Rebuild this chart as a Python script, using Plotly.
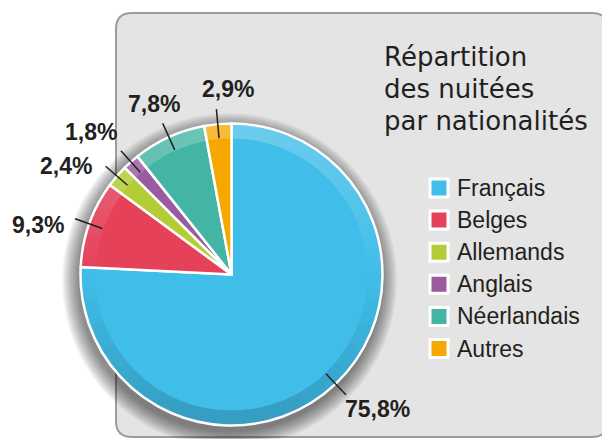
import math
import plotly.graph_objects as go

# ---- data ----
labels = ["Français", "Belges", "Allemands", "Anglais", "Néerlandais", "Autres"]
values = [75.8, 9.3, 2.4, 1.8, 7.8, 2.9]
colors = ["#40bee9", "#e5425a", "#b4cc36", "#9b5ba0", "#44b4a4", "#f5a800"]
title_lines = ["Répartition", "des nuitées", "par nationalités"]

# ---- layout / style parameters (pixels, in window coordinates) ----
W, H = 610, 439
PAGE_OFF = 8                   # default page margin around the figure
CX, CY = 231.5, 274.5          # pie centre
R_OUT, R_IN = 151, 136         # outer radius, inner radius of the rim
LINE_R0, LINE_R1 = 137, 166    # leader line start / end radius
label_nudge = [(32, 14), (-37, 6), (-40, 0), (-30, -19), (-9, -19), (12, -20)]
TXT = "#231f20"


def fx(x):
    return (x - PAGE_OFF) / W


def fy(y):
    return 1 - (y - PAGE_OFF) / H


fig = go.Figure()

fig.add_trace(go.Pie(
    labels=labels, values=values, sort=False, direction="clockwise", rotation=0,
    marker=dict(colors=colors, line=dict(color="white", width=2.5)),
    textinfo="none", hoverinfo="label+percent", showlegend=False,
    domain=dict(x=[fx(CX - R_OUT), fx(CX + R_OUT)],
                y=[fy(CY + R_OUT), fy(CY - R_OUT)]),
))

shapes = []

# grey rounded panel
x0, x1, y0, y1, r = 116, 608, 13, 437, 16
pts = [("M", [(x0 + r, y0)]), ("L", [(x1 - r, y0)]), ("Q", [(x1, y0), (x1, y0 + r)]),
       ("L", [(x1, y1 - r)]), ("Q", [(x1, y1), (x1 - r, y1)]), ("L", [(x0 + r, y1)]),
       ("Q", [(x0, y1), (x0, y1 - r)]), ("L", [(x0, y0 + r)]), ("Q", [(x0, y0), (x0 + r, y0)])]
path = " ".join(c + " " + " ".join(f"{fx(a):.5f},{fy(b):.5f}" for a, b in p) for c, p in pts) + " Z"
shapes.append(dict(type="path", xref="paper", yref="paper", path=path, layer="below",
                   fillcolor="#e4e4e4", line=dict(color="#9c9c9c", width=2)))

# soft drop shadow under the pie
for k in range(10):
    rr = R_OUT + 1 + k * 1.7
    scx, scy = CX - 2, CY + 6
    shapes.append(dict(type="circle", xref="paper", yref="paper", layer="below",
                       x0=fx(scx - rr), x1=fx(scx + rr), y0=fy(scy + rr), y1=fy(scy - rr),
                       fillcolor="rgba(0,0,0,0.055)", line=dict(width=0)))

# rim shading (light at the top, dark at the bottom)
N = 72
for i in range(N):
    a0 = 2 * math.pi * i / N
    a1 = 2 * math.pi * (i + 1) / N
    am = (a0 + a1) / 2
    v = math.cos(am)
    if v >= 0:
        col = f"rgba(255,255,255,{0.22 * v:.3f})"
    else:
        col = f"rgba(0,0,0,{0.17 * (-v):.3f})"
    ring = []
    for a in (a0, am, a1):
        ring.append((CX + (R_OUT - 1.2) * math.sin(a), CY - (R_OUT - 1.2) * math.cos(a)))
    for a in (a1, am, a0):
        ring.append((CX + R_IN * math.sin(a), CY - R_IN * math.cos(a)))
    p = "M " + " L ".join(f"{fx(a):.5f},{fy(b):.5f}" for a, b in ring) + " Z"
    shapes.append(dict(type="path", xref="paper", yref="paper", path=p, layer="above",
                       fillcolor=col, line=dict(width=0)))

annotations = []

# leader lines + percentage labels
total = sum(values)
cum = 0.0
for i, v in enumerate(values):
    mid = (cum + v / 2) / total * 2 * math.pi
    cum += v
    dx, dy = math.sin(mid), -math.cos(mid)
    sx, sy = CX + dx * LINE_R0, CY + dy * LINE_R0
    ex, ey = CX + dx * LINE_R1, CY + dy * LINE_R1
    shapes.append(dict(type="line", xref="paper", yref="paper", layer="above",
                       x0=fx(sx), y0=fy(sy), x1=fx(ex), y1=fy(ey),
                       line=dict(color=TXT, width=1.5)))
    nx, ny = label_nudge[i]
    txt = f"{v:.1f}".replace(".", ",") + "%"
    annotations.append(dict(x=fx(ex + nx), y=fy(ey + ny), xref="paper", yref="paper",
                            text=txt, showarrow=False, xanchor="center", yanchor="middle",
                            font=dict(family="Liberation Sans", size=23, color=TXT, weight="bold")))

# title
for j, t in enumerate(title_lines):
    annotations.append(dict(x=fx(382), y=fy(57.5 + j * 31.5), xref="paper", yref="paper",
                            text=t, showarrow=False, xanchor="left", yanchor="middle",
                            font=dict(family="DejaVu Sans", size=26, color=TXT)))

# custom legend
for j, (lab, col) in enumerate(zip(labels, colors)):
    yc = 188 + j * 32.1
    shapes.append(dict(type="rect", xref="paper", yref="paper", layer="above",
                       x0=fx(430), x1=fx(448), y0=fy(yc + 9), y1=fy(yc - 9),
                       fillcolor=col, line=dict(color="white", width=3)))
    annotations.append(dict(x=fx(455), y=fy(yc), xref="paper", yref="paper",
                            text=lab, showarrow=False, xanchor="left", yanchor="middle",
                            font=dict(family="Liberation Sans", size=23, color=TXT)))

fig.update_layout(
    width=W, height=H, margin=dict(l=0, r=0, t=0, b=0),
    paper_bgcolor="white", plot_bgcolor="white",
    shapes=shapes, annotations=annotations, showlegend=False,
)

fig.write_html("out.html")
